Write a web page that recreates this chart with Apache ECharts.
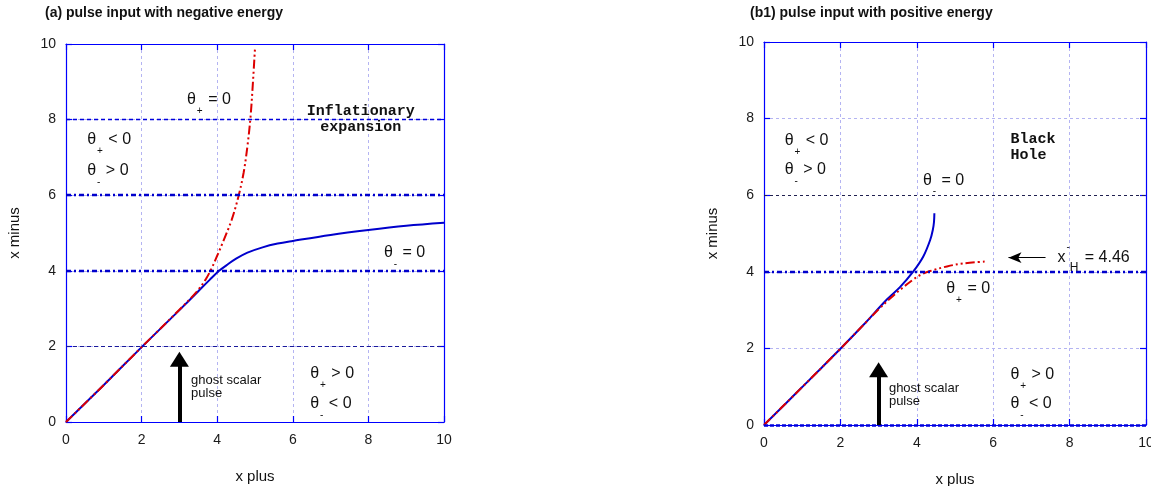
<!DOCTYPE html>
<html><head><meta charset="utf-8">
<script src="https://cdn.jsdelivr.net/npm/echarts@6/dist/echarts.min.js"></script>
<style>html,body{margin:0;padding:0;background:#fff;overflow:hidden}#c{width:1151px;height:486px}</style>
</head><body><div id="c"></div>
<script>
// ---- data ----
const axisTicks = [0, 2, 4, 6, 8, 10];
const titles = ['(a) pulse input with negative energy', '(b1) pulse input with positive energy'];
const xName = 'x plus';
const yName = 'x minus';
// panel (a): theta_minus = 0 (blue), theta_plus = 0 (red)
const thetaMinusA = [[0,0],[0.5,0.49],[1,0.98],[1.5,1.48],[2,1.98],[2.5,2.47],[3,2.96],[3.5,3.46],[3.8,3.76],[4.05,4.0],[4.25,4.15],[4.5,4.32],[4.8,4.48],[5.2,4.62],[5.6,4.72],[6,4.79],[7,4.95],[8,5.08],[9,5.19],[10,5.27]];
const thetaPlusA = [[0,0],[1,0.98],[2,1.98],[3,2.97],[3.46,3.45],[3.7,3.78],[3.85,4.06],[4.0,4.4],[4.16,4.78],[4.38,5.34],[4.56,5.96],[4.7,6.6],[4.8,7.3],[4.88,8.05],[4.94,8.9],[5.0,9.89]];
// panel (b1)
const thetaMinusB = [[0,0],[1,0.99],[2,1.99],[2.6,2.61],[3.21,3.27],[3.56,3.6],[3.91,4.01],[4.17,4.40],[4.35,4.83],[4.42,5.1],[4.45,5.3],[4.46,5.53]];
const thetaPlusB = [[0,0],[1,0.99],[2,1.99],[3,3.02],[3.3,3.3],[3.6,3.56],[3.91,3.8],[4.1,3.92],[4.35,4.02],[4.79,4.14],[5.22,4.22],[5.84,4.27]];
// reference horizontal lines
const hLevelsA = [2, 4, 6, 8];
const hLevelsB = [0, 4, 6];
// arrows
const pulseArrowA = [[3, 0], [3, 1.66]];
const pulseArrowB = [[3, 0], [3, 1.44]];
const horizonArrowB = [[7.37, 4.37], [6.40, 4.37]];
const horizonValue = '4.46';

// ---- styles ----
const BLUE = '#0000cc', RED = '#dd0000', FONT = 'Liberation Sans';
const hStyles = {
  A: {2: {color:'#1a1a9a', width:1.2, type:[4,3]}, 4: {color:BLUE, width:2.4, type:[5,3,2,3]}, 6: {color:BLUE, width:2.4, type:[5,3,2,3]}, 8: {color:'#0000dd', width:1.4, type:[4,3]}},
  B: {0: {color:'#0000dd', width:2.6, type:[4,2]}, 4: {color:BLUE, width:2.4, type:[5,3,2,3]}, 6: {color:'#202050', width:1, type:[3,3]}}
};

const grids = [
  {left: 66, top: 44, width: 378, height: 378, outerBoundsMode: 'none', containLabel: false},
  {left: 764, top: 42, width: 382, height: 383, outerBoundsMode: 'none', containLabel: false}
];

function mainAxis(dim, gi, pos) {
  const isX = dim === 'x';
  return {
    type: 'value', gridIndex: gi, position: pos, min: 0, max: 10, interval: 2,
    name: isX ? xName : yName, nameLocation: 'middle', nameGap: isX ? 47 : 44,
    nameTextStyle: {fontFamily: FONT, fontSize: 15, color: '#111'},
    axisLine: {show: true, onZero: false, lineStyle: {color: '#0000ff', width: 1.2}},
    axisTick: {show: true, inside: true, length: 6, lineStyle: {color: '#0000ff', width: 1.2}},
    axisLabel: {fontFamily: FONT, fontSize: 14, color: '#1a1a1a', margin: isX ? 11 : 10,
      formatter: v => axisTicks.includes(v) ? String(v) : ''},
    splitLine: {show: true, lineStyle: {color: '#b4b4f2', width: 1, type: [3, 3]}}
  };
}
function mirrorAxis(dim, gi, pos) {
  return {
    type: 'value', gridIndex: gi, position: pos, min: 0, max: 10, interval: 2,
    axisLine: {show: true, onZero: false, lineStyle: {color: '#0000ff', width: 1.2}},
    axisTick: {show: true, inside: true, length: 6, lineStyle: {color: '#0000ff', width: 1.2}},
    axisLabel: {show: false}, splitLine: {show: false}
  };
}

function curve(data, gi, color, dashed) {
  return {type: 'line', xAxisIndex: gi * 2, yAxisIndex: gi * 2, data: data, showSymbol: false,
    smooth: 0.35, z: dashed ? 4 : 3,
    lineStyle: {color: color, width: 2, type: dashed ? [9, 3, 2, 3, 2, 3] : 'solid'}};
}
function hLines(levels, gi, styles) {
  return {type: 'line', xAxisIndex: gi * 2, yAxisIndex: gi * 2, data: [], z: 2,
    markLine: {silent: true, symbol: ['none', 'none'], label: {show: false}, animation: false,
      data: levels.map(v => ({yAxis: v, lineStyle: styles[v]}))}};
}
function arrows(gi, thick, thin) {
  const d = [[{coord: thick[0]}, {coord: thick[1]}]];
  const series = {type: 'line', xAxisIndex: gi * 2, yAxisIndex: gi * 2, data: [], z: 5,
    markLine: {silent: true, animation: false, label: {show: false}, symbol: ['none', 'triangle'], symbolSize: [19, 15],
      lineStyle: {color: '#000', width: 4, type: 'solid'}, data: d}};
  if (thin) {
    series.markLine.data.push([{coord: thin[0], symbol: 'none', lineStyle: {color: '#000', width: 1.2, type: 'solid'}},
      {coord: thin[1], symbol: 'arrow', symbolSize: [8, 13], lineStyle: {color: '#000', width: 1.2, type: 'solid'}}]);
  }
  return series;
}

const option = {
  animation: false,
  backgroundColor: '#fff',
  title: [
    {text: titles[0], left: 40, top: 1, textStyle: {fontFamily: FONT, fontSize: 14, fontWeight: 'bold', color: '#111'}},
    {text: titles[1], left: 745, top: 1, textStyle: {fontFamily: FONT, fontSize: 14, fontWeight: 'bold', color: '#111'}}
  ],
  grid: grids,
  xAxis: [mainAxis('x', 0, 'bottom'), mirrorAxis('x', 0, 'top'), mainAxis('x', 1, 'bottom'), mirrorAxis('x', 1, 'top')],
  yAxis: [mainAxis('y', 0, 'left'), mirrorAxis('y', 0, 'right'), mainAxis('y', 1, 'left'), mirrorAxis('y', 1, 'right')],
  series: [
    hLines(hLevelsA, 0, hStyles.A),
    hLines(hLevelsB, 1, hStyles.B),
    curve(thetaMinusA, 0, BLUE, false),
    curve(thetaPlusA, 0, RED, true),
    curve(thetaMinusB, 1, BLUE, false),
    curve(thetaPlusB, 1, RED, true),
    arrows(0, pulseArrowA, null),
    arrows(1, pulseArrowB, horizonArrowB)
  ]
};

const chart = echarts.init(document.getElementById('c'), null, {renderer: 'canvas'});
chart.setOption(option);

// ---- annotations (positions in data coordinates) ----
const th = (sub, rest) => '{t|θ}{s|' + sub + '}{t|' + rest + '}';
const annotations = [
  {g: 0, at: [3.2, 8.52], text: th('+', ' = 0')},
  {g: 0, at: [7.8, 8.02], text: 'Inflationary\nexpansion', kind: 'mono', align: 'center'},
  {g: 0, at: [0.56, 7.46], text: th('+', ' < 0')},
  {g: 0, at: [0.56, 6.64], text: th('-', ' > 0')},
  {g: 0, at: [8.41, 4.47], text: th('-', ' = 0')},
  {g: 0, at: [3.31, 0.94], text: 'ghost scalar\npulse', kind: 'small'},
  {g: 0, at: [6.46, 1.27], text: th('+', ' > 0')},
  {g: 0, at: [6.46, 0.48], text: th('-', ' < 0')},
  {g: 1, at: [0.54, 7.42], text: th('+', ' < 0')},
  {g: 1, at: [0.54, 6.66], text: th('-', ' > 0')},
  {g: 1, at: [6.45, 7.24], text: 'Black\nHole', kind: 'mono'},
  {g: 1, at: [4.16, 6.38], text: th('-', ' = 0')},
  {g: 1, at: [7.68, 4.36], text: '{t|x}{sup|-}{h|H}{t| = ' + horizonValue + '}'},
  {g: 1, at: [4.77, 3.55], text: th('+', ' = 0')},
  {g: 1, at: [3.27, 0.78], text: 'ghost scalar\npulse', kind: 'small'},
  {g: 1, at: [6.45, 1.31], text: th('+', ' > 0')},
  {g: 1, at: [6.45, 0.55], text: th('-', ' < 0')}
];
const rich = {
  t: {fontSize: 16, fontFamily: FONT, fill: '#111', lineHeight: 32},
  s: {fontSize: 10, fontFamily: FONT, fill: '#111', lineHeight: 10, verticalAlign: 'bottom', padding: [0, 1, 0, 1]},
  sup: {fontSize: 10, fontFamily: FONT, fill: '#111', lineHeight: 8, verticalAlign: 'top', padding: [0, 0, 0, 1]},
  h: {fontSize: 12, fontFamily: FONT, fill: '#111', lineHeight: 10, verticalAlign: 'bottom', padding: [0, 2, 0, 0]}
};
const graphics = annotations.map(a => {
  const p = chart.convertToPixel({gridIndex: a.g}, a.at);
  let style;
  if (a.kind === 'mono') {
    style = {text: a.text, fill: '#111', font: 'bold 15px "Liberation Mono"', lineHeight: 16};
  } else if (a.kind === 'small') {
    style = {text: a.text, fill: '#111', font: '13px "Liberation Sans"', lineHeight: 13};
  } else {
    style = {text: a.text, rich: rich, fill: '#111', font: '16px "Liberation Sans"'};
  }
  const al = a.align || 'left';
  Object.assign(style, {align: al, textAlign: al, verticalAlign: 'middle', textVerticalAlign: 'middle'});
  return {type: 'text', x: p[0], y: p[1], z: 10, silent: true, style: style};
});
chart.setOption({graphic: graphics});
</script>
</body></html>
